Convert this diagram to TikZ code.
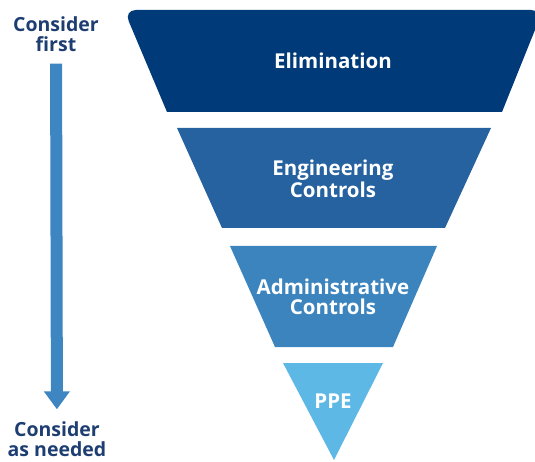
\documentclass[tikz,border=0pt]{standalone}
\usepackage{fontspec}
\setmainfont{Open Sans}
\usetikzlibrary{arrows.meta}
\definecolor{elimblue}{HTML}{003A78}
\definecolor{engblue}{HTML}{25629F}
\definecolor{admblue}{HTML}{3C84BE}
\definecolor{ppeblue}{HTML}{5DB8E6}
\definecolor{arrblue}{HTML}{3D86C1}
\definecolor{lblnavy}{HTML}{1E3E72}
\tikzset{
  band/.style={font=\fontsize{20.5}{22}\selectfont\bfseries, text=white, align=center, inner sep=0pt},
  side/.style={font=\fontsize{19.5}{20}\selectfont\bfseries, text=lblnavy, align=center, inner sep=0pt},
}
\begin{document}
\begin{tikzpicture}[x=1pt, y=-1pt, line join=round, >={Triangle[width=25pt, length=18pt]}]
\useasboundingbox (0,0) rectangle (535,462);
\path
(167,112) coordinate (A1) (124,10) coordinate (A2) (543,10) coordinate (A3) (502,112) coordinate (A4)
(177,128) coordinate (B1) (491,128) coordinate (B2) (445,228) coordinate (B3) (222,228) coordinate (B4)
(230,246) coordinate (C1) (437,246) coordinate (C2) (393,347) coordinate (C3) (275,347) coordinate (C4)
(283,363) coordinate (D1) (383,363) coordinate (D2) (334,460) coordinate (D3);
% the four levels
\fill[elimblue] (A1) [rounded corners=12pt] -- (A2) -- (A3) [sharp corners] -- (A4) -- cycle;
\fill[engblue] (B1) -- (B2) -- (B3) -- (B4) -- cycle;
\fill[admblue] (C1) -- (C2) -- (C3) -- (C4) -- cycle;
\fill[ppeblue] (D1) -- (D2) -- (D3) -- cycle;
\node[band] (elim) at (333,61) {Elimination};
\node[band] (eng) at (333,179) {Engineering\\Controls};
\node[band, font=\fontsize{20.5}{20}\selectfont\bfseries] (adm) at (333,297) {Administrative\\Controls};
\node[band] (ppe) at (333,401) {PPE};
% side arrow
\node[side] (first) at (56,34) {Consider\\first};
\node[side] (needed) at (57,439) {Consider\\as needed};
\draw[arrblue, line width=12pt, ->, shorten <=12pt, shorten >=12pt] (first) -- (needed);
\end{tikzpicture}
\end{document}
